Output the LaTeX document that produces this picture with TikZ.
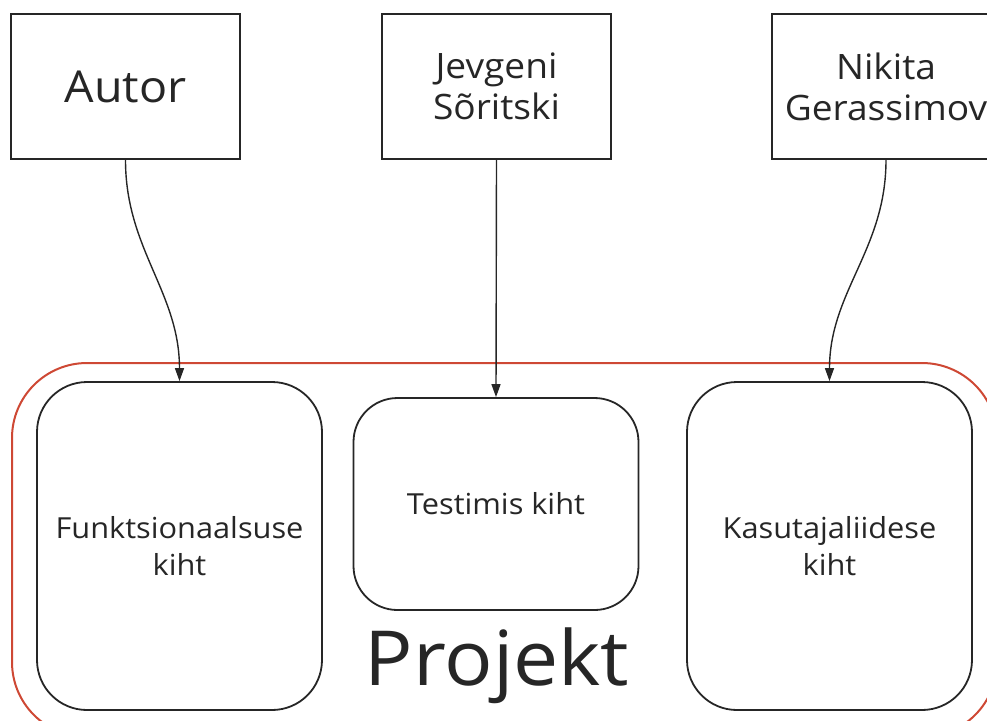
\documentclass[tikz,border=0pt]{standalone}
\usepackage{fontspec}
\setmainfont[FakeStretch=1.06]{Open Sans}
\usetikzlibrary{arrows.meta}
\definecolor{projred}{RGB}{206,72,52}
\definecolor{inkgray}{RGB}{38,38,38}
\tikzset{
	personbox/.style={draw=inkgray, line width=1pt, minimum width=114.5pt, minimum height=72.5pt,
		inner sep=0pt, align=center, text=inkgray, font=\fontsize{17.5}{20.5}\selectfont}
}
\tikzset{
	layerbox/.style={draw=black!85, line width=0.9pt, rounded corners=25pt, minimum width=142.5pt,
		minimum height=164pt, inner sep=0pt, align=center, text=inkgray, font=\fontsize{14.5}{18.5}\selectfont}
}
\tikzset{
	assign/.style={draw=inkgray, line width=0.7pt, -{Triangle[length=6.5pt,width=4.5pt]}}
}

\begin{document}
\begin{tikzpicture}[x=0.5pt, y=-0.5pt]
      \useasboundingbox (0,0) rectangle (987,720);
      \clip (0,0) rectangle (987,720);
      % project frame, runs off the right and bottom edge
      \draw[projred, line width=1pt, rounded corners=37.5pt] (12,363) rectangle (997,737);
      \node[text=inkgray, font=\fontsize{38}{40}\selectfont, anchor=base] (projekt) at (497,685) {Projekt};
      % people
      \node[personbox, font=\fontsize{22}{26}\selectfont] (autor) at (125.5,86.5) {Autor};
      \node[personbox] (jevgeni) at (496.5,86.5) {Jevgeni\\Sõritski};
      \node[personbox] (nikita) at (886,86.5) {Nikita\\Gerassimov};
      % layers
      \node[layerbox] (funk) at (179.5,546) {Funktsionaalsuse\\kiht};
      \node[layerbox, minimum height=106pt, rounded corners=22pt] (test) at (496,504) {Testimis kiht};
      \node[layerbox] (kasutaja) at (829.5,546) {Kasutajaliidese\\kiht};
      % who does what
      \draw[assign] (autor.south) to[out=-90, in=90] (funk.north);
      \draw[assign] (jevgeni.south) -- (test.north);
      \draw[assign] (nikita.south) to[out=-90, in=90] (kasutaja.north);
\end{tikzpicture}
\end{document}
